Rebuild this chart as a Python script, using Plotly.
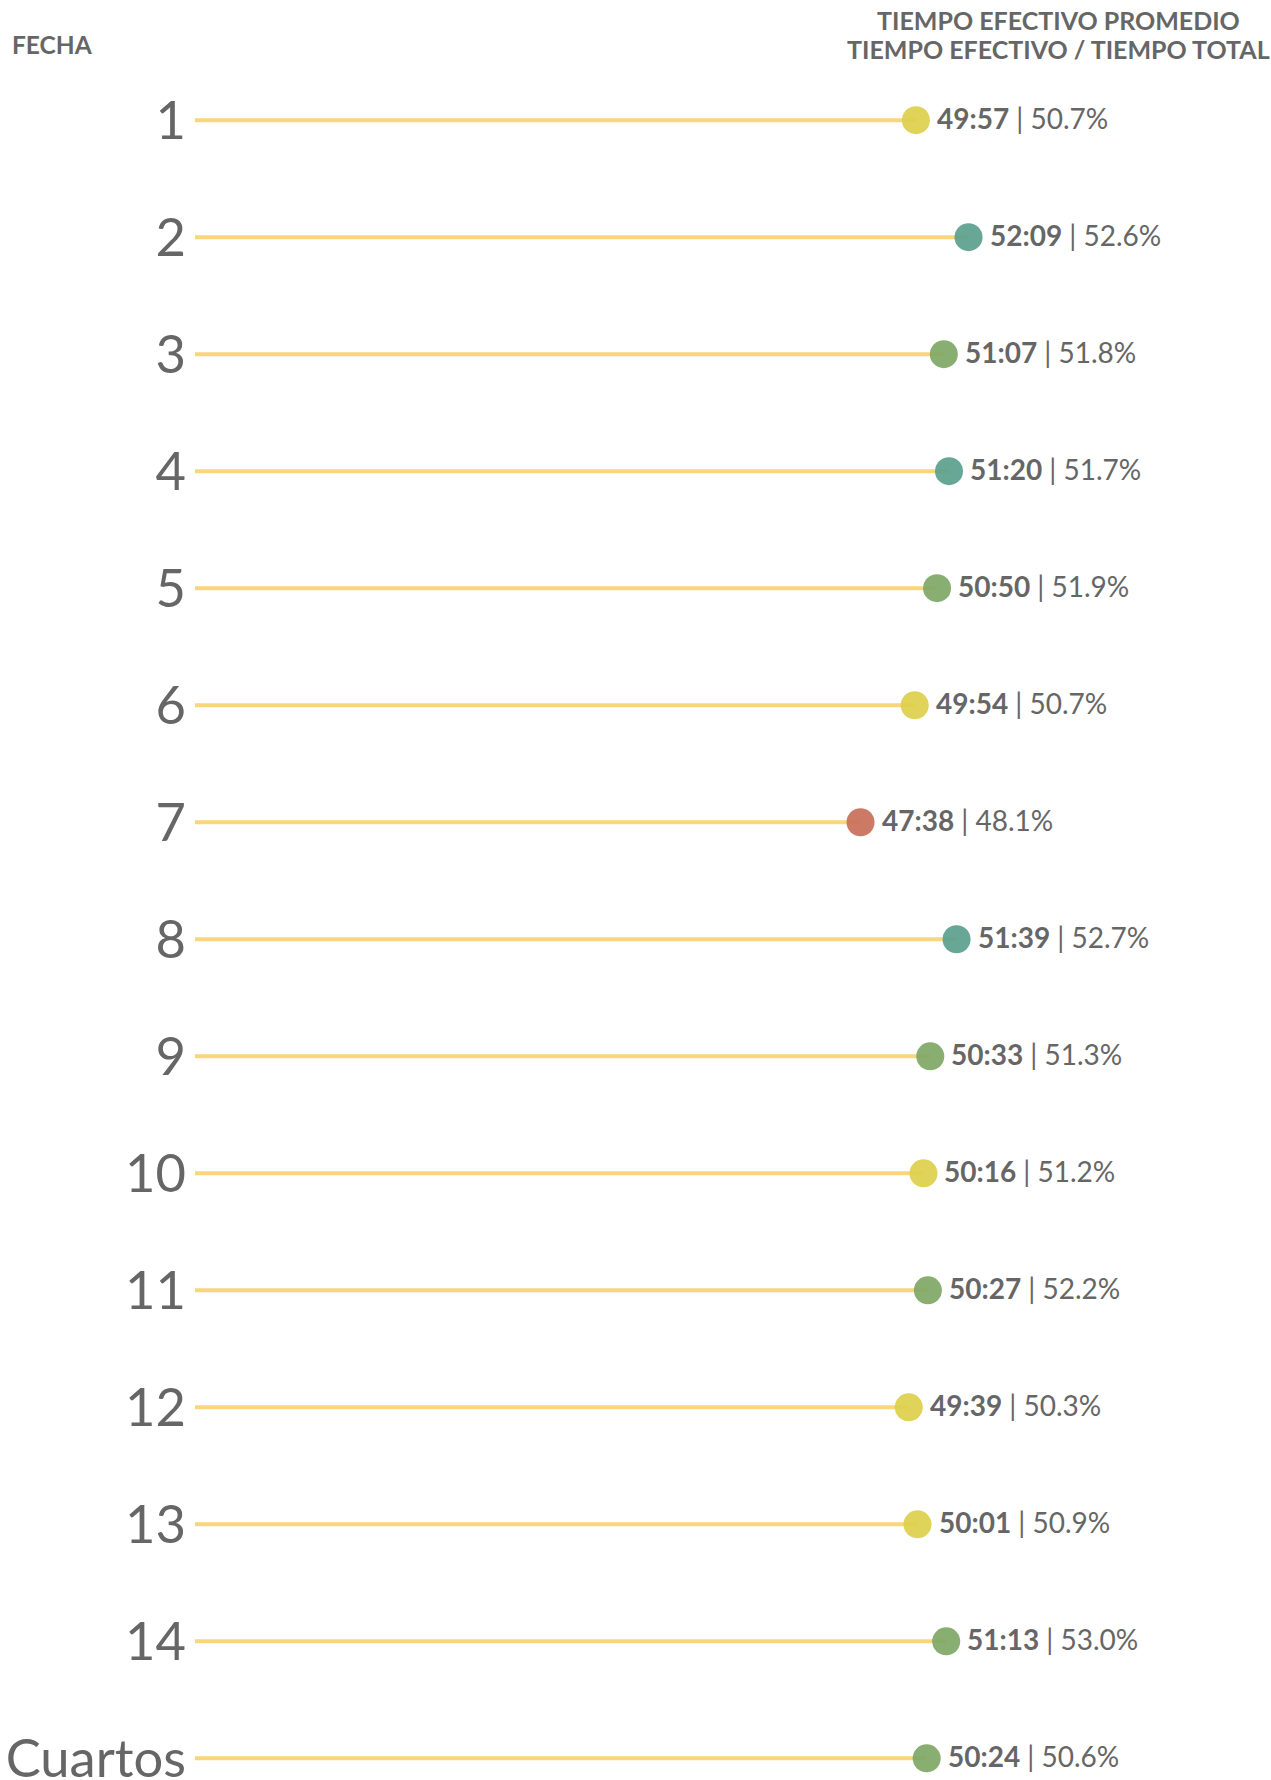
import plotly.graph_objects as go

# ---- data ----
fechas = ["1", "2", "3", "4", "5", "6", "7", "8", "9", "10", "11", "12", "13", "14", "Cuartos"]
tiempo_efectivo = ["49:57", "52:09", "51:07", "51:20", "50:50", "49:54", "47:38", "51:39",
                   "50:33", "50:16", "50:27", "49:39", "50:01", "51:13", "50:24"]
porcentaje = [50.7, 52.6, 51.8, 51.7, 51.9, 50.7, 48.1, 52.7, 51.3, 51.2, 52.2, 50.3, 50.9, 53.0, 50.6]
categoria = ["amarillo", "verde_azul", "verde", "verde_azul", "verde", "amarillo", "rojo", "verde_azul",
             "verde", "amarillo", "verde", "amarillo", "amarillo", "verde", "verde"]
encabezado = ["TIEMPO EFECTIVO PROMEDIO", "TIEMPO EFECTIVO / TIEMPO TOTAL"]

# ---- styles ----
COLORES = {"amarillo": "#DDCF4C", "verde_azul": "#5B9F8C", "verde": "#7FA766", "rojo": "#C86F58"}
LINE_COLOR = "#F9D57C"
TEXT_COLOR = "#666666"
FONT = "Lato, 'Open Sans', sans-serif"

W, H = 1271, 1780
ML, MR, MT, MB = 195, 0, 0, 0
X_MIN, X_MAX = 19.8, 64.8
Y_TOP, Y_BOTTOM = -1.027, 14.185


def to_min(s):
    m, sec = s.split(":")
    return int(m) + int(sec) / 60.0


xs = [to_min(t) for t in tiempo_efectivo]
ys = list(range(len(fechas)))

fig = go.Figure()

# stems
lx, ly = [], []
for x, y in zip(xs, ys):
    lx += [X_MIN, x, None]
    ly += [y, y, None]
fig.add_trace(go.Scatter(x=lx, y=ly, mode="lines", line=dict(color=LINE_COLOR, width=4),
                         hoverinfo="skip", showlegend=False))

# dots
fig.add_trace(go.Scatter(x=xs, y=ys, mode="markers",
                         marker=dict(size=28, color=[COLORES[c] for c in categoria], opacity=0.92,
                                     line=dict(width=0)),
                         showlegend=False,
                         hovertemplate="%{text}<extra></extra>",
                         text=[f"{t} | {p:.1f}%" for t, p in zip(tiempo_efectivo, porcentaje)]))

# value labels
for x, y, t, p in zip(xs, ys, tiempo_efectivo, porcentaje):
    fig.add_annotation(x=x, y=y, xref="x", yref="y", xanchor="left", yanchor="middle",
                       xshift=19, yshift=2, showarrow=False,
                       text=f"<b>{t}</b> | {p:.1f}%",
                       font=dict(family=FONT, size=28, color=TEXT_COLOR))

plot_w = W - ML - MR


def px_to_paper_x(px):
    return (px - ML) / plot_w


# headers
fig.add_annotation(x=px_to_paper_x(10), y=1 - 44 / H, xref="paper", yref="paper",
                   xanchor="left", yanchor="middle", showarrow=False,
                   text="<b>FECHA</b>", font=dict(family=FONT, size=24.5, color=TEXT_COLOR))
for linea, yc in zip(encabezado, [20, 49]):
    fig.add_annotation(x=px_to_paper_x(1058), y=1 - yc / H, xref="paper", yref="paper",
                       xanchor="center", yanchor="middle", showarrow=False, align="center",
                       text=f"<b>{linea}</b>",
                       font=dict(family=FONT, size=25, color=TEXT_COLOR))

fig.update_layout(
    width=W, height=H,
    margin=dict(l=ML, r=MR, t=MT, b=MB, pad=0, autoexpand=False),
    paper_bgcolor="white", plot_bgcolor="white",
    xaxis=dict(range=[X_MIN, X_MAX], visible=False, fixedrange=True, automargin=False),
    yaxis=dict(range=[Y_BOTTOM, Y_TOP], tickmode="array", tickvals=ys, ticktext=fechas,
               showgrid=False, zeroline=False, showline=False, ticks="",
               ticklabelstandoff=8, ticklabeloverflow="allow", automargin=False,
               tickfont=dict(family=FONT, size=52.5, color=TEXT_COLOR), fixedrange=True),
    font=dict(family=FONT),
)

fig.write_html("out.html", config={"displayModeBar": False},
               post_script="document.body.style.margin='0';")
